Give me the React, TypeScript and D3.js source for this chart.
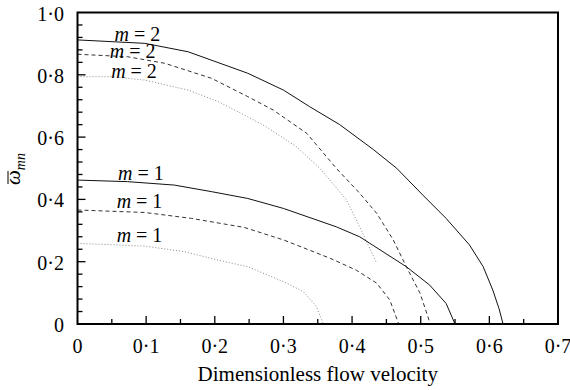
import React from 'react';
import * as d3 from 'd3';

// Natural frequency vs dimensionless flow velocity
const solidM2: [number, number][] = [
  [0, 0.912], [0.098, 0.901], [0.161, 0.874], [0.248, 0.805], [0.3, 0.751], [0.338, 0.698],
  [0.382, 0.64], [0.431, 0.56], [0.465, 0.5], [0.503, 0.414], [0.537, 0.339], [0.571, 0.254],
  [0.591, 0.184], [0.605, 0.109], [0.614, 0.05], [0.62, 0],
];
const dashedM2: [number, number][] = [
  [0, 0.866], [0.073, 0.858], [0.127, 0.837], [0.195, 0.789], [0.248, 0.73], [0.285, 0.687],
  [0.334, 0.612], [0.377, 0.5], [0.411, 0.42], [0.436, 0.355], [0.46, 0.27], [0.479, 0.184],
  [0.499, 0.099], [0.514, 0],
];
const dottedM2: [number, number][] = [
  [0, 0.794], [0.049, 0.794], [0.098, 0.783], [0.161, 0.751], [0.205, 0.714], [0.243, 0.671],
  [0.275, 0.633], [0.319, 0.569], [0.353, 0.5], [0.392, 0.398], [0.411, 0.312], [0.436, 0.195],
];
const solidM1: [number, number][] = [
  [0, 0.462], [0.073, 0.457], [0.141, 0.446], [0.195, 0.425], [0.248, 0.403], [0.3, 0.371],
  [0.377, 0.312], [0.411, 0.28], [0.445, 0.232], [0.479, 0.184], [0.513, 0.125], [0.537, 0.066],
  [0.55, 0],
];
const dashedM1: [number, number][] = [
  [0, 0.366], [0.098, 0.358], [0.166, 0.339], [0.243, 0.31], [0.3, 0.27], [0.368, 0.211],
  [0.406, 0.173], [0.436, 0.131], [0.455, 0.077], [0.468, 0],
];
const dottedM1: [number, number][] = [
  [0, 0.259], [0.098, 0.25], [0.156, 0.232], [0.205, 0.205], [0.248, 0.184], [0.3, 0.136],
  [0.329, 0.104], [0.348, 0.056], [0.358, 0],
];

const xTicks = [0, 0.1, 0.2, 0.3, 0.4, 0.5, 0.6, 0.7];
const yTicks = [0, 0.2, 0.4, 0.6, 0.8, 1.0];

// curve labels: mode number and anchor (data units)
const curveLabels = [
  { m: 2, x: 0.054, y: 0.91 },
  { m: 2, x: 0.047, y: 0.854 },
  { m: 2, x: 0.049, y: 0.79 },
  { m: 1, x: 0.059, y: 0.462 },
  { m: 1, x: 0.057, y: 0.372 },
  { m: 1, x: 0.057, y: 0.262 },
];

const series = [
  { data: solidM2, dash: null, color: '#111' },
  { data: dashedM2, dash: '4 3', color: '#333' },
  { data: dottedM2, dash: '1 2', color: '#888' },
  { data: solidM1, dash: null, color: '#111' },
  { data: dashedM1, dash: '4 3', color: '#333' },
  { data: dottedM1, dash: '1 2', color: '#888' },
];

const W = 570;
const H = 390;
const margin = { left: 77.5, right: 12, top: 12.5, bottom: 66 };
const FONT = '"Liberation Serif", "Times New Roman", serif';

const fmt = (v: number) => (v === 0 ? '0' : d3.format('.1f')(v).replace('.', '\u00b7'));

export default function App() {
  const x = d3.scaleLinear().domain([0, 0.7]).range([margin.left, W - margin.right]);
  const y = d3.scaleLinear().domain([0, 1.0]).range([H - margin.bottom, margin.top]);

  const line = d3.line<[number, number]>()
    .x(d => x(d[0]))
    .y(d => y(d[1]));

  const xMinor = d3.range(0.05, 0.7, 0.1);
  const yMinor = d3.range(0, 1.0001, 0.04).filter(v => Math.abs(v / 0.2 - Math.round(v / 0.2)) > 1e-6);

  const x0 = x(0), x1 = x(0.7), y0 = y(0), y1 = y(1.0);

  return (
    <svg width={W} height={H} style={{ position: 'absolute', left: 0, top: 0, background: '#fff' }}
      fontFamily={FONT}>
      {/* curves */}
      {series.map((s, i) => (
        <path key={i} d={line(s.data) || ''} fill="none" stroke={s.color} strokeWidth={1}
          strokeDasharray={s.dash || undefined} />
      ))}

      {/* ticks */}
      {xTicks.slice(1, -1).map(t => (
        <line key={'xt' + t} x1={x(t)} x2={x(t)} y1={y0} y2={y0 - 8} stroke="#000" strokeWidth={1.3} />
      ))}
      {xMinor.map(t => (
        <line key={'xm' + t} x1={x(t)} x2={x(t)} y1={y0} y2={y0 - 5} stroke="#000" strokeWidth={1.3} />
      ))}
      {yTicks.slice(1, -1).map(t => (
        <line key={'yt' + t} x1={x0} x2={x0 + 8} y1={y(t)} y2={y(t)} stroke="#000" strokeWidth={1.3} />
      ))}
      {yMinor.map(t => (
        <line key={'ym' + t} x1={x0} x2={x0 + 5} y1={y(t)} y2={y(t)} stroke="#000" strokeWidth={1.3} />
      ))}

      {/* frame */}
      <rect x={x0} y={y1} width={x1 - x0} height={y0 - y1} fill="none" stroke="#000" strokeWidth={2} />

      {/* tick labels */}
      {xTicks.map(t => (
        <text key={'xl' + t} x={x(t)} y={353} textAnchor="middle" fontSize={20}>{fmt(t)}</text>
      ))}
      {yTicks.map(t => (
        <text key={'yl' + t} x={64} y={y(t) + 8} textAnchor="end" fontSize={20}>{fmt(t)}</text>
      ))}

      {/* curve labels */}
      {curveLabels.map((l, i) => (
        <text key={'cl' + i} x={x(l.x)} y={y(l.y)} fontSize={20}>
          <tspan fontStyle="italic">m</tspan> = {l.m}
        </text>
      ))}

      {/* axis titles */}
      <text x={(x0 + x1) / 2} y={381} textAnchor="middle" fontSize={21}>Dimensionless flow velocity</text>
      <g transform="translate(20,185) rotate(-90)">
        <text x={0} y={0} fontSize={21} fontStyle="italic">
          ω<tspan fontSize={14} dy={5}>mn</tspan>
        </text>
        <line x1={1} x2={14} y1={-12} y2={-12} stroke="#000" strokeWidth={1} />
      </g>
    </svg>
  );
}
